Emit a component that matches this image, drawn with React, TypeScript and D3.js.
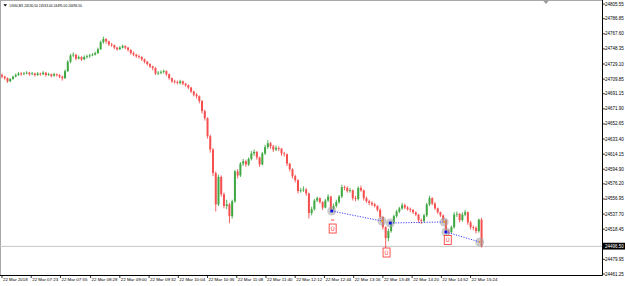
import React from "react";
import * as d3 from "d3";

const SYMBOL = "US30,M1";
const HEADER_OHLC = ["24530.50", "24533.00", "24495.00", "24496.50"];
const START_TIME = "06:51";
const BAR_MINUTES = 3;
const FIRST_OPEN = 24715;

const CLOSES = [
  24713, 24711, 24707, 24710, 24713, 24715, 24717, 24716, 24717, 24718,
  24716, 24717, 24715, 24717, 24716, 24718, 24715, 24716, 24714, 24716,
  24715, 24713, 24711, 24720, 24732, 24740, 24741, 24736, 24738, 24735,
  24738, 24739, 24740, 24741, 24743, 24748, 24757, 24761, 24758, 24754,
  24753, 24750, 24748, 24750, 24752, 24750, 24747, 24743, 24741, 24739,
  24738, 24735, 24732, 24729, 24726, 24724, 24717, 24718, 24719, 24720,
  24716, 24711, 24707, 24706, 24705, 24707, 24704, 24702, 24699, 24694,
  24690, 24688, 24682, 24669, 24660, 24637, 24620, 24590, 24550, 24585,
  24563, 24548, 24550, 24535, 24554, 24592, 24587, 24602, 24605, 24601,
  24608, 24615, 24617, 24610, 24601, 24615, 24623, 24628, 24624, 24620,
  24622, 24621, 24615, 24614, 24602, 24595, 24586, 24581, 24567, 24568,
  24569, 24564, 24539, 24544, 24555, 24558, 24553, 24546, 24555, 24560,
  24544, 24548, 24553, 24560, 24572, 24571, 24567, 24568, 24558, 24557,
  24571, 24568, 24558, 24554, 24552, 24550, 24548, 24543, 24534, 24521,
  24507, 24516, 24527, 24535, 24541, 24545, 24549, 24546, 24544, 24543,
  24540, 24537, 24530, 24529, 24536, 24550, 24558, 24551, 24545, 24540,
  24536, 24530, 24516, 24515, 24521, 24537, 24538, 24530, 24537, 24540,
  24527, 24521, 24520, 24516, 24530.5, 24496.5,
];

const HIGHS = [
  24717, 24714, 24712, 24711, 24714, 24717, 24719, 24719, 24719, 24720,
  24719, 24719, 24718, 24719, 24718, 24720, 24719, 24718, 24717, 24718,
  24717, 24716, 24714, 24722, 24734, 24742, 24744, 24742, 24740, 24739,
  24740, 24741, 24742, 24743, 24745, 24750, 24759, 24764, 24762, 24759,
  24756, 24754, 24751, 24752, 24754, 24753, 24751, 24748, 24745, 24742,
  24741, 24739, 24736, 24733, 24730, 24727, 24725, 24720, 24721, 24722,
  24721, 24717, 24712, 24709, 24708, 24709, 24708, 24705, 24703, 24700,
  24695, 24692, 24689, 24683, 24671, 24661, 24639, 24622, 24592, 24588,
  24587, 24565, 24556, 24552, 24556, 24594, 24595, 24604, 24608, 24607,
  24610, 24618, 24620, 24618, 24611, 24617, 24626, 24632, 24630, 24626,
  24625, 24624, 24622, 24617, 24615, 24603, 24596, 24588, 24582, 24571,
  24573, 24571, 24565, 24547, 24557, 24560, 24559, 24554, 24557, 24563,
  24561, 24551, 24556, 24562, 24575, 24574, 24573, 24571, 24569, 24561,
  24573, 24574, 24569, 24560, 24556, 24554, 24552, 24549, 24545, 24535,
  24522, 24519, 24529, 24537, 24543, 24547, 24552, 24551, 24548, 24546,
  24544, 24541, 24538, 24532, 24538, 24552, 24561, 24559, 24553, 24546,
  24541, 24537, 24531, 24518, 24523, 24540, 24541, 24539, 24540, 24543,
  24541, 24529, 24523, 24522, 24532, 24533,
];

const LOWS = [
  24711, 24709, 24705, 24706, 24709, 24712, 24714, 24714, 24715, 24716,
  24714, 24715, 24713, 24714, 24714, 24715, 24713, 24714, 24712, 24713,
  24713, 24711, 24708, 24710, 24719, 24730, 24738, 24734, 24735, 24733,
  24734, 24736, 24737, 24739, 24740, 24742, 24747, 24755, 24755, 24752,
  24751, 24748, 24746, 24747, 24749, 24748, 24745, 24741, 24739, 24737,
  24736, 24733, 24730, 24727, 24724, 24721, 24715, 24715, 24716, 24717,
  24714, 24709, 24705, 24704, 24703, 24703, 24702, 24700, 24697, 24692,
  24688, 24685, 24679, 24666, 24657, 24634, 24616, 24586, 24541, 24548,
  24560, 24545, 24544, 24526, 24532, 24552, 24583, 24585, 24599, 24598,
  24599, 24606, 24612, 24607, 24598, 24600, 24613, 24621, 24621, 24617,
  24618, 24618, 24612, 24611, 24599, 24592, 24583, 24578, 24564, 24565,
  24566, 24561, 24532, 24536, 24542, 24553, 24551, 24543, 24545, 24553,
  24541, 24542, 24546, 24551, 24558, 24568, 24565, 24565, 24555, 24554,
  24555, 24566, 24555, 24552, 24549, 24548, 24546, 24541, 24531, 24518,
  24494, 24503, 24514, 24525, 24533, 24539, 24543, 24544, 24542, 24540,
  24538, 24535, 24527, 24525, 24527, 24534, 24548, 24549, 24543, 24538,
  24534, 24527, 24513, 24512, 24513, 24519, 24534, 24527, 24528, 24535,
  24524, 24518, 24517, 24513, 24514, 24495,
];

const PRICE_TICKS = [
  24805.55, 24786.85, 24767.6, 24748.35, 24729.1, 24709.85, 24691.15,
  24671.9, 24652.65, 24633.4, 24614.15, 24594.9, 24576.2, 24556.95,
  24537.7, 24518.45, 24499.2, 24479.95, 24461.25,
];
const PRICE_MIN = 24461.25;
const PRICE_MAX = 24805.55;
const BID = 24496.5;

const TIME_TICKS = [
  "06:51", "07:23", "07:55", "08:28", "09:00", "09:32", "10:04", "10:36", "11:08",
  "11:40", "12:12", "12:44", "13:16", "13:48", "14:20", "14:52", "15:24",
];
const TIME_LABELS = [
  "22 Mar 2018", "22 Mar 07:23", "22 Mar 07:55", "22 Mar 08:28", "22 Mar 09:00",
  "22 Mar 09:32", "22 Mar 10:04", "22 Mar 10:36", "22 Mar 11:08", "22 Mar 11:40",
  "22 Mar 12:12", "22 Mar 12:44", "22 Mar 13:16", "22 Mar 13:48", "22 Mar 14:20",
  "22 Mar 14:52", "22 Mar 15:24",
];

// trend segments
const SEG_START_TIMES = ["12:52", "13:56", "14:57"];
const SEG_START_PRICES = [24541.6, 24526.3, 24514.8];
const SEG_END_TIMES = ["13:47", "14:55", "15:34"];
const SEG_END_PRICES = [24528.8, 24527.6, 24502.1];

// signal boxes: time, top price
const BOX_TIMES = ["12:53", "13:52", "14:59"];
const BOX_TOPS = [24525.0, 24494.4, 24510.4];
const DASH_TIME = "12:53";
const DASH_PRICE = 24530.1;

const BULL = "#3fa843";
const BEAR = "#f5504f";
const FONT = "'Liberation Sans', Arial, sans-serif";

export default function App() {
  const W = 625;
  const H = 286;
  const parse = d3.timeParse("%H:%M");
  const t0 = parse(START_TIME) as Date;
  const tm = (m: number) => new Date(t0.getTime() + m * 60000);
  const AX_X = 602.5;
  const AX_Y = 275.5;

  const x = d3.scaleTime().domain([t0, tm(32)]).range([2, 2 + 29.23]);
  const y = d3.scaleLinear().domain([PRICE_MIN, PRICE_MAX]).range([274, 4.07]);

  const candles = CLOSES.map((c, i) => ({
    t: tm(i * BAR_MINUTES),
    o: i === 0 ? FIRST_OPEN : CLOSES[i - 1],
    h: HIGHS[i],
    l: LOWS[i],
    c,
  }));

  const bw = 2.0;
  const bidY = y(BID);

  return (
    <svg
      width={W}
      height={H}
      style={{ position: "absolute", left: 0, top: 0, background: "#fff" }}
      fontFamily={FONT}
    >
      <rect x={0} y={0} width={W} height={H} fill="#fff" />
      <clipPath id="plot">
        <rect x={1} y={1} width={AX_X - 1} height={AX_Y - 1} />
      </clipPath>
      {/* frame */}
      <line x1={0} x2={AX_X} y1={0.5} y2={0.5} stroke="#a8a8a8" strokeWidth={1} />
      <line x1={0.5} x2={0.5} y1={0} y2={AX_Y} stroke="#a8a8a8" strokeWidth={1} />
      <path d="M543,0.5 L549,0.5 L546,4 Z" fill="#9a9a9a" />

      {/* bid line */}
      <line x1={0} x2={AX_X} y1={bidY} y2={bidY} stroke="#c6c6c6" strokeWidth={1} />

      {/* candles */}
      <g clipPath="url(#plot)">
        {candles.map((d, i) => {
          const cx = x(d.t);
          const col = d.c > d.o ? BULL : d.c < d.o ? BEAR : "#666";
          const top = y(Math.max(d.o, d.c));
          const bot = y(Math.min(d.o, d.c));
          return (
            <g key={i}>
              <line x1={cx} x2={cx} y1={y(d.h)} y2={y(d.l)} stroke={col} strokeWidth={0.9} />
              <rect x={cx - bw / 2} y={top} width={bw} height={Math.max(0.8, bot - top)} fill={col} />
            </g>
          );
        })}
      </g>

      {/* halos */}
      {SEG_START_TIMES.map((s, i) => (
        <g key={"h" + i}>
          <circle cx={x(parse(s) as Date)} cy={y(SEG_START_PRICES[i])} r={4.5} fill="#a0a0a0" opacity={0.55} />
          <circle cx={x(parse(SEG_END_TIMES[i]) as Date)} cy={y(SEG_END_PRICES[i])} r={4.5} fill="#a0a0a0" opacity={0.55} />
        </g>
      ))}

      {/* trend segments */}
      {SEG_START_TIMES.map((s, i) => {
        const x1 = x(parse(s) as Date);
        const y1 = y(SEG_START_PRICES[i]);
        const x2 = x(parse(SEG_END_TIMES[i]) as Date);
        const y2 = y(SEG_END_PRICES[i]);
        return (
          <g key={"s" + i}>
            <line x1={x1} y1={y1} x2={x2} y2={y2} stroke="#2b2bff" strokeWidth={0.9} strokeDasharray="1.2 1.4" />
            <rect x={x1 - 1.4} y={y1 - 1.4} width={2.8} height={2.8} fill="#1010e0" />
            <circle cx={x2} cy={y2} r={1} fill="#f0a020" />
          </g>
        );
      })}

      {/* signal boxes */}
      <line
        x1={x(parse(DASH_TIME) as Date) - 1.5}
        x2={x(parse(DASH_TIME) as Date) + 1.5}
        y1={y(DASH_PRICE)}
        y2={y(DASH_PRICE)}
        stroke="#ff2a2a"
        strokeWidth={0.9}
      />
      {BOX_TIMES.map((s, i) => {
        const cx = x(parse(s) as Date);
        const ty = y(BOX_TOPS[i]);
        return (
          <g key={"b" + i}>
            <rect x={cx - 3.5} y={ty} width={7} height={9} fill="#fff" stroke="#ff2a2a" strokeWidth={0.8} />
            <text x={cx} y={ty + 6.8} fontSize={5.5} textAnchor="middle" fill="#ff2a2a">
              Ü
            </text>
          </g>
        );
      })}

      {/* axes */}
      <line x1={AX_X} x2={AX_X} y1={0} y2={AX_Y} stroke="#000" strokeWidth={1} />
      <line x1={0} x2={AX_X} y1={AX_Y} y2={AX_Y} stroke="#000" strokeWidth={1} />

      {PRICE_TICKS.map((p, i) => (
        <g key={"p" + i}>
          <line x1={AX_X} x2={AX_X + 2.5} y1={y(p)} y2={y(p)} stroke="#000" strokeWidth={0.8} />
          {Math.abs(y(p) - bidY) > 5 && (
            <text x={605} y={y(p) + 1.5} fontSize={4.5} fill="#000">
              {p.toFixed(2)}
            </text>
          )}
        </g>
      ))}

      <rect x={603} y={bidY - 3.6} width={22} height={6.8} fill="#000" />
      <text x={605} y={bidY + 1.5} fontSize={4.5} fill="#fff">
        {BID.toFixed(2)}
      </text>

      {TIME_TICKS.map((s, i) => {
        const tx = x(parse(s) as Date);
        return (
          <g key={"t" + i}>
            <line x1={tx} x2={tx} y1={AX_Y} y2={AX_Y + 2.5} stroke="#000" strokeWidth={0.8} />
            <text x={tx + 1} y={281} fontSize={4.4} fill="#000">
              {TIME_LABELS[i]}
            </text>
          </g>
        );
      })}

      {/* header */}
      <path d="M3.5,4.3 L7,4.3 L5.25,6.6 Z" fill="#000" />
      <text x={9.5} y={7} fontSize={3.3} fill="#000">
        {SYMBOL + "  " + HEADER_OHLC.join(" ")}
      </text>
    </svg>
  );
}
